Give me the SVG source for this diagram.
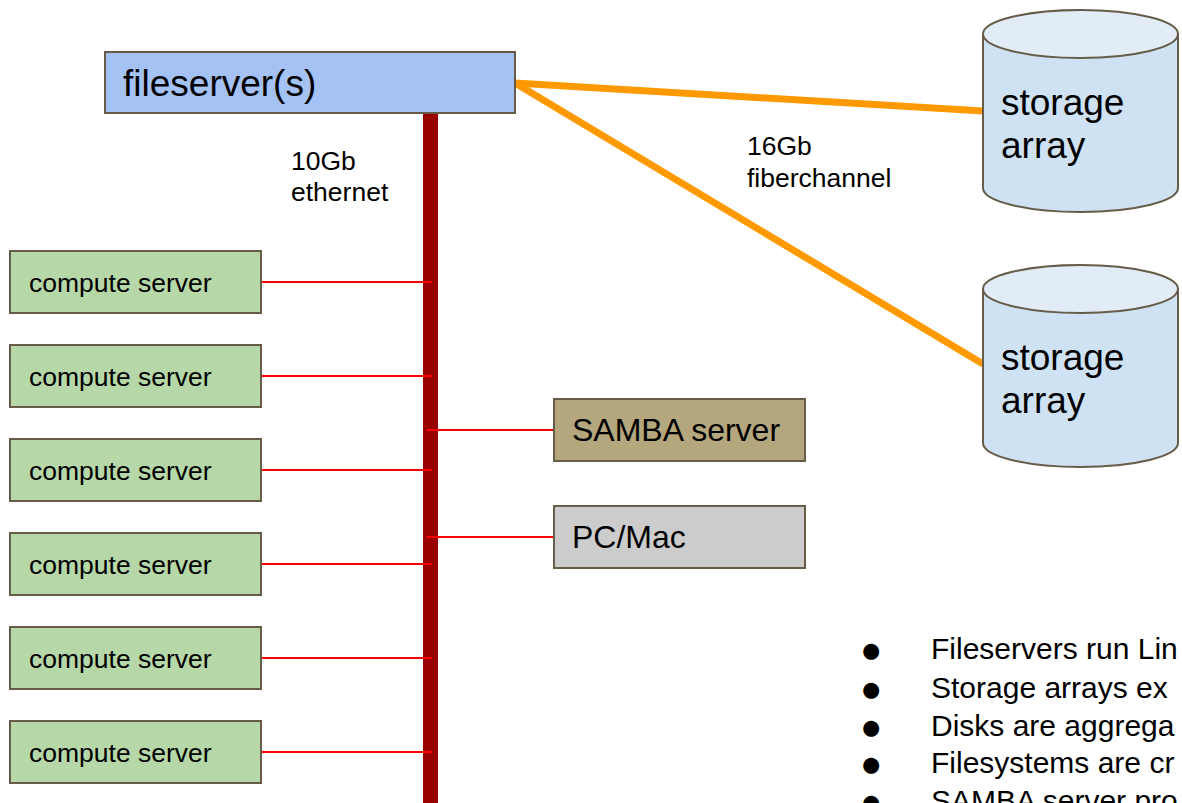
<svg xmlns="http://www.w3.org/2000/svg" width="1182" height="803" viewBox="0 0 1182 803">
<style>
text{font-family:"Liberation Sans",Arial,sans-serif;fill:#000}
.box{stroke:#665c48;stroke-width:2}
.cs{fill:#b6d7a8}
.t26{font-size:26.5px}
.t32{font-size:32px}
.t36{font-size:37px}
.t30{font-size:30px}
.bul{font-size:37px}
.red{stroke:#ff0000;stroke-width:2;fill:none}
.fc{stroke:#ff9900;stroke-width:7;fill:none;stroke-linecap:butt}
.cyl{fill:#cfe2f3;stroke:#665c48;stroke-width:2}
.cyltop{fill:#e1ecf7;stroke:#665c48;stroke-width:2}
</style>
<rect width="1182" height="803" fill="#ffffff"/>
<g id="connectors">
<rect id="ethernet-bus" x="423" y="113" width="15" height="700" fill="#990000"/>
<line class="fc" x1="515" y1="83" x2="983" y2="111"/>
<line class="fc" x1="515" y1="83" x2="983" y2="364"/>
<line class="red" x1="261" y1="282" x2="432" y2="282"/>
<line class="red" x1="261" y1="376" x2="432" y2="376"/>
<line class="red" x1="261" y1="470" x2="432" y2="470"/>
<line class="red" x1="261" y1="564" x2="432" y2="564"/>
<line class="red" x1="261" y1="658" x2="432" y2="658"/>
<line class="red" x1="261" y1="752" x2="432" y2="752"/>
<line class="red" x1="427" y1="430" x2="554" y2="430"/>
<line class="red" x1="427" y1="537" x2="554" y2="537"/>
</g>
<g id="label-ethernet">
<text class="t26" x="291" y="170">10Gb</text>
<text class="t26" x="291" y="201">ethernet</text>
</g>
<g id="label-fiber">
<text class="t26" x="747" y="155">16Gb</text>
<text class="t26" x="747" y="187">fiberchannel</text>
</g>
<g id="fileserver">
<rect class="box" x="105" y="52" width="410" height="61" fill="#a4c2f4"/>
<text class="t36" x="123" y="96">fileserver(s)</text>
</g>
<g id="storage1">
<path class="cyl" d="M983,34 V188 A97.5,24 0 0 0 1178,188 V34 Z"/>
<ellipse class="cyltop" cx="1080.5" cy="34" rx="97.5" ry="24"/>
<text class="t36" x="1001" y="115">storage</text>
<text class="t36" x="1001" y="158">array</text>
</g>
<g id="storage2">
<path class="cyl" d="M983,289 V443 A97.5,24 0 0 0 1178,443 V289 Z"/>
<ellipse class="cyltop" cx="1080.5" cy="289" rx="97.5" ry="24"/>
<text class="t36" x="1001" y="370">storage</text>
<text class="t36" x="1001" y="413">array</text>
</g>
<g id="compute1"><rect class="box cs" x="10" y="251" width="251" height="62"/><text class="t26" x="29" y="292">compute server</text></g>
<g id="compute2"><rect class="box cs" x="10" y="345" width="251" height="62"/><text class="t26" x="29" y="386">compute server</text></g>
<g id="compute3"><rect class="box cs" x="10" y="439" width="251" height="62"/><text class="t26" x="29" y="480">compute server</text></g>
<g id="compute4"><rect class="box cs" x="10" y="533" width="251" height="62"/><text class="t26" x="29" y="574">compute server</text></g>
<g id="compute5"><rect class="box cs" x="10" y="627" width="251" height="62"/><text class="t26" x="29" y="668">compute server</text></g>
<g id="compute6"><rect class="box cs" x="10" y="721" width="251" height="62"/><text class="t26" x="29" y="762">compute server</text></g>
<g id="samba">
<rect class="box" x="554" y="399" width="251" height="62" fill="#b4a77d"/>
<text class="t32" x="572" y="441">SAMBA server</text>
</g>
<g id="pcmac">
<rect class="box" x="554" y="506" width="251" height="62" fill="#cccccc"/>
<text class="t32" x="572" y="548">PC/Mac</text>
</g>
<g id="notes">
<text class="bul" x="860" y="662">●</text>
<text class="t30" x="931" y="659">Fileservers run Lin</text>
<text class="bul" x="860" y="701">●</text>
<text class="t30" x="931" y="698">Storage arrays ex</text>
<text class="bul" x="860" y="739">●</text>
<text class="t30" x="931" y="736">Disks are aggrega</text>
<text class="bul" x="860" y="776">●</text>
<text class="t30" x="931" y="773">Filesystems are cr</text>
<text class="bul" x="860" y="814">●</text>
<text class="t30" x="931" y="811">SAMBA server pro</text>
</g>
</svg>
